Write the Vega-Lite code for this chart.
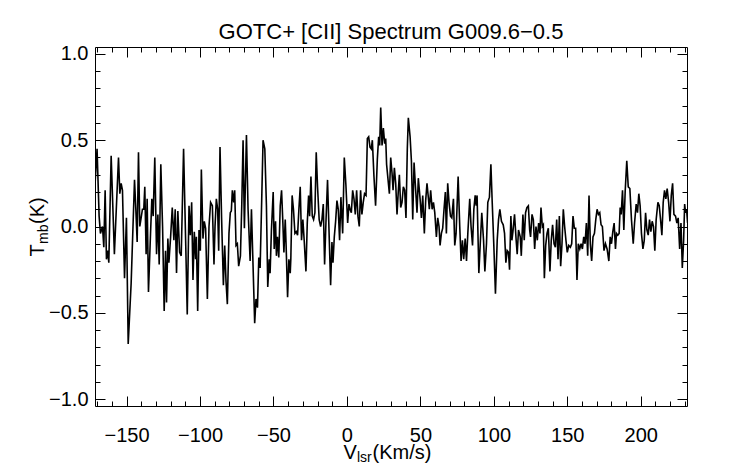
{
  "$schema": "https://vega.github.io/schema/vega-lite/v6.json",
  "autosize": {"type": "none"},
  "padding": {"left": 95, "top": 47, "right": 55, "bottom": 58},
  "width": 592,
  "height": 359,
  "background": "white",
  "title": {"text": "GOTC+ [CII] Spectrum G009.6−0.5", "anchor": "middle", "frame": "group", "font": "Liberation Sans", "fontSize": 22, "fontWeight": "normal", "color": "black", "baseline": "alphabetic", "offset": 8, "dy": 25},
  "config": {
    "view": {"stroke": null},
    "axis": {"domainColor": "black", "tickColor": "black", "labelColor": "black", "titleColor": "black", "grid": false, "labelFont": "Liberation Sans", "titleFont": "Liberation Sans", "titleFontWeight": "normal", "labelFontSize": 20, "domainWidth": 1, "tickWidth": 1, "labelOverlap": false, "labelFlush": false, "labelBound": false}
  },
  "data": {"values": [
    {"v": -171.9, "t": 0.18}, {"v": -170.1, "t": 0.45}, {"v": -168.7, "t": 0.06}, {"v": -167.8, "t": -0.04}, {"v": -166.4, "t": 0.0}, {"v": -165.5, "t": -0.12}, {"v": -164.6, "t": 0.21}, {"v": -163.7, "t": -0.19}, {"v": -162.8, "t": -0.14}, {"v": -162.1, "t": -0.21}, {"v": -160.5, "t": 0.41}, {"v": -158.3, "t": -0.16}, {"v": -155.5, "t": 0.4}, {"v": -154.6, "t": 0.19}, {"v": -153.7, "t": 0.25}, {"v": -152.8, "t": 0.21}, {"v": -151.4, "t": -0.3}, {"v": -150.1, "t": 0.05}, {"v": -148.9, "t": -0.68}, {"v": -146.9, "t": -0.33}, {"v": -144.6, "t": 0.27}, {"v": -143.7, "t": 0.1}, {"v": -142.8, "t": -0.09}, {"v": -141.9, "t": 0.43}, {"v": -141.0, "t": 0.0}, {"v": -140.1, "t": 0.05}, {"v": -139.2, "t": 0.1}, {"v": -138.3, "t": 0.1}, {"v": -137.6, "t": 0.23}, {"v": -136.7, "t": -0.16}, {"v": -136.0, "t": 0.16}, {"v": -135.1, "t": -0.38}, {"v": -133.7, "t": -0.04}, {"v": -132.8, "t": 0.16}, {"v": -131.9, "t": 0.06}, {"v": -130.8, "t": 0.4}, {"v": -129.6, "t": -0.16}, {"v": -128.7, "t": 0.07}, {"v": -127.8, "t": -0.22}, {"v": -126.7, "t": 0.36}, {"v": -125.5, "t": 0.0}, {"v": -124.4, "t": -0.49}, {"v": -123.5, "t": -0.14}, {"v": -122.8, "t": -0.44}, {"v": -121.9, "t": -0.07}, {"v": -121.2, "t": -0.21}, {"v": -120.1, "t": -0.07}, {"v": -118.9, "t": 0.11}, {"v": -117.8, "t": -0.08}, {"v": -116.9, "t": 0.1}, {"v": -116.0, "t": -0.27}, {"v": -115.1, "t": 0.09},
    {"v": -113.9, "t": -0.15}, {"v": -112.8, "t": -0.17}, {"v": -111.2, "t": 0.45}, {"v": -109.8, "t": -0.08}, {"v": -108.7, "t": -0.51}, {"v": -107.5, "t": 0.12}, {"v": -106.6, "t": -0.05}, {"v": -105.7, "t": 0.14}, {"v": -104.8, "t": -0.31}, {"v": -103.9, "t": -0.03}, {"v": -103.0, "t": -0.19}, {"v": -102.5, "t": -0.06}, {"v": -101.6, "t": -0.49}, {"v": -100.7, "t": -0.02}, {"v": -99.8, "t": -0.14}, {"v": -99.1, "t": 0.33}, {"v": -98.0, "t": -0.07}, {"v": -97.1, "t": 0.03}, {"v": -96.2, "t": -0.01}, {"v": -95.0, "t": -0.42}, {"v": -93.9, "t": 0.0}, {"v": -92.8, "t": 0.14}, {"v": -91.6, "t": 0.12}, {"v": -90.5, "t": -0.22}, {"v": -89.8, "t": 0.0}, {"v": -88.9, "t": 0.16}, {"v": -88.0, "t": 0.1}, {"v": -87.3, "t": -0.14}, {"v": -86.4, "t": 0.46}, {"v": -85.3, "t": 0.04}, {"v": -84.1, "t": -0.34}, {"v": -83.2, "t": -0.11}, {"v": -82.3, "t": -0.32}, {"v": -81.4, "t": -0.45}, {"v": -80.3, "t": -0.04}, {"v": -79.4, "t": 0.08}, {"v": -78.7, "t": 0.09}, {"v": -78.0, "t": 0.21}, {"v": -77.1, "t": 0.14}, {"v": -76.4, "t": 0.21}, {"v": -75.5, "t": -0.11}, {"v": -74.6, "t": -0.1}, {"v": -73.7, "t": -0.23}, {"v": -72.5, "t": -0.17}, {"v": -71.6, "t": 0.12}, {"v": -70.7, "t": 0.5}, {"v": -69.8, "t": -0.01}, {"v": -68.4, "t": 0.53}, {"v": -67.3, "t": 0.1}, {"v": -65.9, "t": -0.2}, {"v": -65.0, "t": 0.1}, {"v": -63.9, "t": -0.23}, {"v": -62.8, "t": -0.56}, {"v": -61.9, "t": -0.42}, {"v": -60.9, "t": -0.47}, {"v": -60.0, "t": -0.18}, {"v": -59.1, "t": -0.24}, {"v": -58.0, "t": 0.16}, {"v": -57.1, "t": 0.5}, {"v": -55.9, "t": 0.45},
    {"v": -54.8, "t": 0.12}, {"v": -53.9, "t": -0.35}, {"v": -52.9, "t": -0.19}, {"v": -52.3, "t": -0.27}, {"v": -51.4, "t": -0.02}, {"v": -50.2, "t": 0.2}, {"v": -49.5, "t": -0.13}, {"v": -48.6, "t": 0.03}, {"v": -48.0, "t": -0.17}, {"v": -47.3, "t": -0.06}, {"v": -46.4, "t": -0.18}, {"v": -45.4, "t": 0.12}, {"v": -44.5, "t": 0.21}, {"v": -43.6, "t": 0.02}, {"v": -42.9, "t": -0.15}, {"v": -42.0, "t": 0.04}, {"v": -41.4, "t": -0.11}, {"v": -40.4, "t": -0.41}, {"v": -39.5, "t": -0.19}, {"v": -38.6, "t": -0.27}, {"v": -38.2, "t": -0.19}, {"v": -37.3, "t": 0.18}, {"v": -36.4, "t": 0.1}, {"v": -35.4, "t": -0.04}, {"v": -34.5, "t": -0.03}, {"v": -33.6, "t": -0.05}, {"v": -32.7, "t": 0.1}, {"v": -31.8, "t": 0.23}, {"v": -30.9, "t": -0.08}, {"v": -30.0, "t": 0.04}, {"v": -29.1, "t": -0.08}, {"v": -27.9, "t": -0.26}, {"v": -27.0, "t": 0.02}, {"v": -26.1, "t": 0.18}, {"v": -25.4, "t": 0.06}, {"v": -24.5, "t": 0.29}, {"v": -23.6, "t": 0.06}, {"v": -22.7, "t": 0.04}, {"v": -21.8, "t": 0.08}, {"v": -20.9, "t": 0.43}, {"v": -20.0, "t": 0.23}, {"v": -18.9, "t": 0.04}, {"v": -17.9, "t": 0.0}, {"v": -17.0, "t": 0.04}, {"v": -16.1, "t": 0.13}, {"v": -15.2, "t": -0.22}, {"v": -14.3, "t": 0.02}, {"v": -13.2, "t": 0.27}, {"v": -12.0, "t": -0.08}, {"v": -11.1, "t": -0.34}, {"v": -10.2, "t": -0.09}, {"v": -9.5, "t": -0.21}, {"v": -8.6, "t": -0.06}, {"v": -7.7, "t": 0.03}, {"v": -6.8, "t": 0.15}, {"v": -5.9, "t": 0.1}, {"v": -5.0, "t": -0.08}, {"v": -4.1, "t": 0.17}, {"v": -2.9, "t": -0.04}, {"v": -1.8, "t": 0.4}, {"v": -0.7, "t": 0.24}, {"v": 0.5, "t": 0.02}, {"v": 1.4, "t": 0.13}, {"v": 2.1, "t": 0.1},
    {"v": 3.0, "t": 0.08}, {"v": 3.9, "t": 0.21}, {"v": 4.8, "t": 0.16}, {"v": 5.7, "t": 0.07}, {"v": 6.6, "t": 0.21}, {"v": 7.5, "t": 0.06}, {"v": 8.4, "t": 0.0}, {"v": 9.3, "t": 0.21}, {"v": 10.2, "t": 0.07}, {"v": 11.1, "t": 0.14}, {"v": 12.0, "t": 0.19}, {"v": 13.0, "t": 0.18}, {"v": 13.9, "t": 0.51}, {"v": 14.8, "t": 0.52}, {"v": 15.7, "t": 0.46}, {"v": 16.6, "t": 0.45}, {"v": 17.3, "t": 0.5}, {"v": 18.4, "t": 0.29}, {"v": 19.5, "t": 0.12}, {"v": 20.7, "t": 0.39}, {"v": 21.6, "t": 0.52}, {"v": 22.3, "t": 0.47}, {"v": 23.0, "t": 0.69}, {"v": 23.9, "t": 0.47}, {"v": 24.8, "t": 0.57}, {"v": 25.7, "t": 0.48}, {"v": 26.4, "t": 0.51}, {"v": 27.0, "t": 0.36}, {"v": 28.0, "t": 0.27}, {"v": 28.9, "t": 0.19}, {"v": 29.8, "t": 0.4}, {"v": 30.7, "t": 0.31}, {"v": 31.4, "t": 0.21}, {"v": 32.3, "t": 0.34}, {"v": 33.2, "t": 0.25}, {"v": 34.1, "t": 0.07}, {"v": 35.0, "t": 0.21}, {"v": 35.7, "t": 0.3}, {"v": 36.6, "t": 0.11}, {"v": 37.5, "t": 0.14}, {"v": 38.4, "t": 0.23}, {"v": 39.3, "t": 0.21}, {"v": 40.2, "t": 0.05}, {"v": 41.1, "t": 0.45}, {"v": 41.8, "t": 0.63}, {"v": 43.0, "t": 0.52}, {"v": 43.9, "t": 0.38}, {"v": 44.8, "t": 0.04}, {"v": 45.7, "t": 0.37}, {"v": 46.8, "t": 0.21}, {"v": 47.7, "t": 0.08}, {"v": 48.6, "t": 0.28}, {"v": 49.8, "t": 0.16}, {"v": 50.7, "t": 0.05}, {"v": 51.6, "t": 0.18}, {"v": 52.7, "t": -0.04}, {"v": 53.6, "t": 0.15}, {"v": 54.5, "t": 0.25}, {"v": 55.5, "t": 0.16}, {"v": 56.1, "t": 0.1}, {"v": 57.0, "t": 0.21}, {"v": 58.0, "t": 0.1}, {"v": 58.9, "t": 0.14}, {"v": 59.8, "t": 0.08},
    {"v": 60.9, "t": -0.06}, {"v": 61.8, "t": 0.05}, {"v": 62.7, "t": 0.0}, {"v": 63.4, "t": -0.11}, {"v": 64.3, "t": -0.04}, {"v": 65.2, "t": -0.01}, {"v": 66.1, "t": 0.1}, {"v": 67.0, "t": 0.2}, {"v": 67.7, "t": -0.04}, {"v": 68.6, "t": 0.25}, {"v": 69.5, "t": 0.14}, {"v": 70.5, "t": 0.06}, {"v": 71.4, "t": 0.05}, {"v": 72.5, "t": 0.16}, {"v": 73.4, "t": -0.11}, {"v": 74.3, "t": -0.04}, {"v": 75.7, "t": 0.29}, {"v": 76.8, "t": 0.0}, {"v": 77.7, "t": -0.2}, {"v": 78.6, "t": -0.08}, {"v": 79.5, "t": -0.19}, {"v": 80.5, "t": -0.07}, {"v": 81.4, "t": -0.2}, {"v": 82.3, "t": -0.04}, {"v": 83.6, "t": 0.16}, {"v": 84.5, "t": 0.0}, {"v": 85.5, "t": -0.11}, {"v": 86.4, "t": 0.1}, {"v": 87.3, "t": 0.18}, {"v": 88.0, "t": 0.12}, {"v": 88.6, "t": 0.18}, {"v": 89.8, "t": -0.27}, {"v": 90.7, "t": -0.11}, {"v": 91.8, "t": 0.08}, {"v": 93.0, "t": -0.08}, {"v": 93.9, "t": -0.26}, {"v": 95.0, "t": -0.1}, {"v": 95.9, "t": 0.14}, {"v": 97.0, "t": 0.17}, {"v": 98.0, "t": 0.36}, {"v": 98.9, "t": 0.14}, {"v": 100.0, "t": -0.11}, {"v": 101.1, "t": -0.39}, {"v": 102.3, "t": -0.08}, {"v": 103.2, "t": 0.04}, {"v": 104.1, "t": 0.1}, {"v": 105.2, "t": 0.03}, {"v": 106.4, "t": 0.01}, {"v": 107.3, "t": -0.04}, {"v": 108.2, "t": -0.21}, {"v": 109.1, "t": -0.14}, {"v": 110.0, "t": -0.15}, {"v": 110.7, "t": -0.25}, {"v": 111.6, "t": 0.06}, {"v": 112.3, "t": -0.08}, {"v": 113.0, "t": -0.03}, {"v": 114.1, "t": 0.07}, {"v": 115.2, "t": -0.08}, {"v": 115.9, "t": -0.16}, {"v": 116.8, "t": -0.02}, {"v": 118.0, "t": -0.06},
    {"v": 118.7, "t": -0.17}, {"v": 119.8, "t": 0.07}, {"v": 120.7, "t": -0.08}, {"v": 121.6, "t": 0.08}, {"v": 122.5, "t": 0.11}, {"v": 123.5, "t": 0.12}, {"v": 124.4, "t": -0.02}, {"v": 125.0, "t": -0.06}, {"v": 126.0, "t": 0.07}, {"v": 126.9, "t": 0.04}, {"v": 127.8, "t": -0.13}, {"v": 128.7, "t": 0.0}, {"v": 129.6, "t": -0.08}, {"v": 130.5, "t": 0.02}, {"v": 131.4, "t": -0.04}, {"v": 132.1, "t": 0.11}, {"v": 133.0, "t": 0.0}, {"v": 133.7, "t": 0.01}, {"v": 134.4, "t": -0.3}, {"v": 135.3, "t": -0.11}, {"v": 136.2, "t": -0.04}, {"v": 137.1, "t": -0.01}, {"v": 138.2, "t": -0.26}, {"v": 139.1, "t": -0.08}, {"v": 140.0, "t": 0.01}, {"v": 141.0, "t": -0.1}, {"v": 141.9, "t": -0.12}, {"v": 142.8, "t": 0.04}, {"v": 143.7, "t": -0.19}, {"v": 144.6, "t": 0.06}, {"v": 145.5, "t": -0.23}, {"v": 146.4, "t": -0.1}, {"v": 147.3, "t": 0.1}, {"v": 148.2, "t": 0.0}, {"v": 149.1, "t": -0.08}, {"v": 150.0, "t": -0.15}, {"v": 151.0, "t": -0.11}, {"v": 152.1, "t": -0.12}, {"v": 153.0, "t": -0.1}, {"v": 153.9, "t": 0.06}, {"v": 154.8, "t": -0.01}, {"v": 155.7, "t": -0.01}, {"v": 156.6, "t": -0.31}, {"v": 157.5, "t": -0.1}, {"v": 158.5, "t": -0.13}, {"v": 159.4, "t": -0.1}, {"v": 160.3, "t": -0.13}, {"v": 161.2, "t": -0.06}, {"v": 162.1, "t": -0.1}, {"v": 163.0, "t": 0.02}, {"v": 163.9, "t": -0.17}, {"v": 164.8, "t": 0.18}, {"v": 165.7, "t": -0.1}, {"v": 166.6, "t": -0.2}, {"v": 167.5, "t": -0.06}, {"v": 168.5, "t": -0.04}, {"v": 169.4, "t": 0.04}, {"v": 170.3, "t": 0.1}, {"v": 171.2, "t": 0.07}, {"v": 172.1, "t": 0.08}, {"v": 173.0, "t": 0.01}, {"v": 173.9, "t": 0.0}, {"v": 175.0, "t": -0.14}, {"v": 176.0, "t": -0.1},
    {"v": 177.1, "t": -0.13}, {"v": 178.3, "t": -0.2}, {"v": 179.2, "t": -0.06}, {"v": 180.1, "t": -0.1}, {"v": 181.0, "t": -0.03}, {"v": 181.9, "t": 0.02}, {"v": 182.8, "t": -0.13}, {"v": 183.5, "t": -0.04}, {"v": 184.4, "t": -0.05}, {"v": 185.3, "t": -0.04}, {"v": 186.0, "t": 0.11}, {"v": 186.7, "t": 0.07}, {"v": 187.6, "t": 0.21}, {"v": 188.5, "t": -0.02}, {"v": 189.4, "t": 0.2}, {"v": 190.5, "t": 0.38}, {"v": 191.5, "t": 0.23}, {"v": 192.6, "t": 0.22}, {"v": 193.7, "t": 0.04}, {"v": 194.9, "t": -0.1}, {"v": 195.8, "t": 0.02}, {"v": 196.9, "t": 0.13}, {"v": 197.8, "t": 0.08}, {"v": 198.7, "t": 0.19}, {"v": 199.6, "t": 0.12}, {"v": 200.5, "t": -0.04}, {"v": 201.5, "t": -0.13}, {"v": 202.4, "t": -0.08}, {"v": 203.3, "t": 0.08}, {"v": 204.2, "t": -0.02}, {"v": 205.1, "t": -0.05}, {"v": 206.0, "t": 0.04}, {"v": 206.9, "t": -0.03}, {"v": 207.8, "t": 0.03}, {"v": 208.7, "t": 0.0}, {"v": 209.6, "t": -0.14}, {"v": 210.5, "t": 0.04}, {"v": 211.7, "t": 0.14}, {"v": 212.6, "t": 0.12}, {"v": 213.5, "t": 0.04}, {"v": 214.4, "t": -0.05}, {"v": 215.3, "t": 0.14}, {"v": 216.2, "t": 0.21}, {"v": 217.1, "t": 0.16}, {"v": 218.0, "t": 0.22}, {"v": 219.0, "t": 0.14}, {"v": 219.9, "t": 0.03}, {"v": 220.8, "t": 0.18}, {"v": 221.7, "t": 0.25}, {"v": 222.6, "t": 0.07}, {"v": 223.7, "t": 0.06}, {"v": 224.6, "t": 0.02}, {"v": 225.5, "t": 0.05}, {"v": 226.5, "t": -0.13}, {"v": 227.4, "t": 0.02}, {"v": 228.3, "t": -0.24}, {"v": 229.2, "t": -0.08}, {"v": 229.9, "t": 0.13}, {"v": 230.5, "t": 0.08}, {"v": 231.2, "t": 0.1}, {"v": 231.9, "t": 0.02}
  ]},
  "resolve": {"axis": {"x": "independent", "y": "independent"}},
  "layer": [
    {
      "mark": {"type": "line", "stroke": "black", "strokeWidth": 1.6, "clip": true},
      "encoding": {
        "x": {"field": "v", "type": "quantitative", "scale": {"domain": [-171.5, 231.5], "nice": false, "zero": false},
              "axis": {"orient": "bottom", "values": [-150, -100, -50, 0, 50, 100, 150, 200], "tickSize": -10, "labelPadding": 29, "format": "d", "domain": true,
                       "title": "V", "titleX": 248, "titleY": 52, "titleAlign": "left", "titleBaseline": "alphabetic", "titleAngle": 0, "titleFontSize": 20}},
        "y": {"field": "t", "type": "quantitative", "scale": {"domain": [-1.04, 1.04], "nice": false, "zero": false},
              "axis": {"orient": "left", "values": [-1, -0.5, 0, 0.5, 1], "tickSize": -10, "labelPadding": 17, "format": ".1f", "domain": true,
                       "title": "T", "titleX": -52, "titleY": 209, "titleAlign": "left", "titleBaseline": "alphabetic", "titleAngle": 270, "titleFontSize": 20}}
      }
    },
    {
      "mark": {"type": "line", "strokeOpacity": 0},
      "encoding": {
        "x": {"field": "v", "type": "quantitative", "scale": {"domain": [-171.5, 231.5], "nice": false, "zero": false},
              "axis": {"orient": "top", "values": [-150, -100, -50, 0, 50, 100, 150, 200], "tickSize": -10, "labels": false, "domain": true, "title": null}},
        "y": {"field": "t", "type": "quantitative", "scale": {"domain": [-1.04, 1.04], "nice": false, "zero": false},
              "axis": {"orient": "right", "values": [-1, -0.5, 0, 0.5, 1], "tickSize": -10, "labels": false, "domain": true, "title": null}}
      }
    },
    {
      "mark": {"type": "line", "strokeOpacity": 0},
      "encoding": {
        "x": {"field": "v", "type": "quantitative", "scale": {"domain": [-171.5, 231.5], "nice": false, "zero": false},
              "axis": {"orient": "bottom", "values": [-170, -160, -140, -130, -120, -110, -90, -80, -70, -60, -40, -30, -20, -10, 10, 20, 30, 40, 60, 70, 80, 90, 110, 120, 130, 140, 160, 170, 180, 190, 210, 220, 230], "tickSize": -5, "labels": false, "domain": false,
                       "title": "lsr", "titleX": 261.5, "titleY": 55.5, "titleAlign": "left", "titleBaseline": "alphabetic", "titleAngle": 0, "titleFontSize": 14}},
        "y": {"field": "t", "type": "quantitative", "scale": {"domain": [-1.04, 1.04], "nice": false, "zero": false},
              "axis": {"orient": "left", "values": [-0.9, -0.8, -0.7, -0.6, -0.4, -0.3, -0.2, -0.1, 0.1, 0.2, 0.3, 0.4, 0.6, 0.7, 0.8, 0.9], "tickSize": -5, "labels": false, "domain": false,
                       "title": "mb", "titleX": -48, "titleY": 196.5, "titleAlign": "left", "titleBaseline": "alphabetic", "titleAngle": 270, "titleFontSize": 14}}
      }
    },
    {
      "mark": {"type": "line", "strokeOpacity": 0},
      "encoding": {
        "x": {"field": "v", "type": "quantitative", "scale": {"domain": [-171.5, 231.5], "nice": false, "zero": false},
              "axis": {"orient": "top", "values": [-170, -160, -140, -130, -120, -110, -90, -80, -70, -60, -40, -30, -20, -10, 10, 20, 30, 40, 60, 70, 80, 90, 110, 120, 130, 140, 160, 170, 180, 190, 210, 220, 230], "tickSize": -5, "labels": false, "domain": false, "title": null}},
        "y": {"field": "t", "type": "quantitative", "scale": {"domain": [-1.04, 1.04], "nice": false, "zero": false},
              "axis": {"orient": "right", "values": [-0.9, -0.8, -0.7, -0.6, -0.4, -0.3, -0.2, -0.1, 0.1, 0.2, 0.3, 0.4, 0.6, 0.7, 0.8, 0.9], "tickSize": -5, "labels": false, "domain": false, "title": null}}
      }
    },
    {
      "mark": {"type": "line", "strokeOpacity": 0},
      "encoding": {
        "x": {"field": "v", "type": "quantitative", "scale": {"domain": [-171.5, 231.5], "nice": false, "zero": false},
              "axis": {"orient": "bottom", "ticks": false, "labels": false, "domain": false,
                       "title": "(Km/s)", "titleX": 277, "titleY": 52, "titleAlign": "left", "titleBaseline": "alphabetic", "titleAngle": 0, "titleFontSize": 20}},
        "y": {"field": "t", "type": "quantitative", "scale": {"domain": [-1.04, 1.04], "nice": false, "zero": false},
              "axis": {"orient": "left", "ticks": false, "labels": false, "domain": false,
                       "title": "(K)", "titleX": -52, "titleY": 176.5, "titleAlign": "left", "titleBaseline": "alphabetic", "titleAngle": 270, "titleFontSize": 20}}
      }
    }
  ]
}
